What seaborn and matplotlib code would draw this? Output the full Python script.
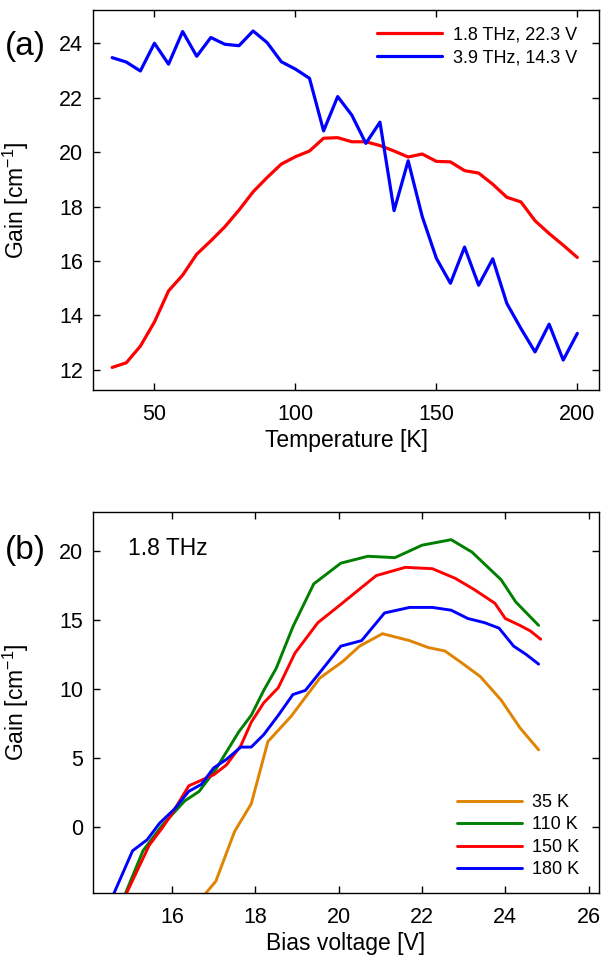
import numpy as np
import pandas as pd
import seaborn as sns
import matplotlib
matplotlib.use('Agg')
import matplotlib.pyplot as plt

# ---- panel (a): gain vs temperature ----
temp_k = [35, 40, 45, 50, 55, 60, 65, 70, 75, 80, 85, 90, 95, 100, 105, 110, 115,
          120, 125, 130, 135, 140, 145, 150, 155, 160, 165, 170, 175, 180, 185, 190, 195, 200]
gain_18thz = [12.09, 12.26, 12.87, 13.76, 14.9, 15.48, 16.25, 16.74, 17.26, 17.87, 18.54, 19.07,
              19.56, 19.83, 20.04, 20.51, 20.53, 20.38, 20.38, 20.24, 20.04, 19.82, 19.93, 19.66,
              19.64, 19.32, 19.23, 18.82, 18.34, 18.17, 17.48, 17.01, 16.58, 16.13]
gain_39thz = [23.47, 23.31, 22.98, 24.0, 23.23, 24.43, 23.52, 24.21, 23.96, 23.91, 24.45, 24.02,
              23.32, 23.05, 22.71, 20.78, 22.04, 21.36, 20.32, 21.10, 17.85, 19.68, 17.63, 16.1,
              15.18, 16.51, 15.11, 16.08, 14.44, 13.52, 12.66, 13.68, 12.36, 13.34]
labels_a = ['1.8 THz, 22.3 V', '3.9 THz, 14.3 V']

# ---- panel (b): gain vs bias at 1.8 THz ----
v_35 = [16.8, 17.05, 17.5, 17.9, 18.3, 18.85, 19.55, 20.1, 20.5, 21.05, 21.7, 22.15, 22.55,
        22.95, 23.4, 23.9, 24.35, 24.8]
g_35 = [-4.8, -3.9, -0.3, 1.7, 6.2, 8.0, 10.8, 12.0, 13.1, 14.0, 13.5, 13.0, 12.75, 11.9,
        10.9, 9.2, 7.2, 5.6]
v_110 = [14.85, 15.3, 15.75, 16.3, 16.65, 17.05, 17.6, 17.9, 18.2, 18.5, 18.9, 19.4, 20.05,
         20.7, 21.35, 22.0, 22.7, 23.2, 23.9, 24.25, 24.8]
g_110 = [-5.0, -1.7, 0.1, 1.9, 2.6, 4.2, 6.9, 8.1, 9.9, 11.5, 14.5, 17.6, 19.1, 19.6, 19.5,
         20.4, 20.8, 19.9, 17.9, 16.3, 14.6]
v_150 = [14.9, 15.45, 15.75, 16.0, 16.4, 16.7, 17.0, 17.3, 17.65, 17.9, 18.2, 18.55, 18.95,
         19.5, 20.0, 20.9, 21.6, 22.25, 22.8, 23.25, 23.75, 24.0, 24.35, 24.6, 24.85]
g_150 = [-4.8, -1.3, -0.1, 1.0, 3.0, 3.4, 3.8, 4.5, 5.9, 7.6, 9.0, 10.1, 12.6, 14.8, 16.0,
         18.2, 18.8, 18.7, 18.0, 17.2, 16.2, 15.1, 14.6, 14.2, 13.6]
v_180 = [14.6, 15.05, 15.4, 15.7, 16.05, 16.4, 16.7, 17.0, 17.3, 17.65, 17.9, 18.2, 18.55,
         18.9, 19.2, 19.6, 20.05, 20.55, 21.1, 21.7, 22.25, 22.7, 23.1, 23.5, 23.85, 24.2,
         24.5, 24.8]
g_180 = [-4.8, -1.7, -0.9, 0.3, 1.3, 2.6, 3.1, 4.3, 4.9, 5.8, 5.8, 6.7, 8.1, 9.6, 9.9, 11.4,
         13.1, 13.5, 15.5, 15.9, 15.9, 15.7, 15.1, 14.8, 14.4, 13.1, 12.5, 11.8]
labels_b = ['35 K', '110 K', '150 K', '180 K']

colors_a = ['#ff0000', '#0000ff']
colors_b = ['#df8300', '#007f00', '#ff0000', '#0000ff']

sns.set_theme(style='ticks')
plt.rcParams['font.family'] = ['Liberation Sans', 'DejaVu Sans']
plt.rcParams['mathtext.fontset'] = 'custom'
plt.rcParams['mathtext.rm'] = 'Liberation Sans'
plt.rcParams['mathtext.it'] = 'Liberation Sans'
plt.rcParams['text.color'] = 'black'
plt.rcParams['axes.labelcolor'] = 'black'
plt.rcParams['xtick.color'] = 'black'
plt.rcParams['ytick.color'] = 'black'

df_a = pd.concat([
    pd.DataFrame({'T': temp_k, 'Gain': gain_18thz, 'series': labels_a[0]}),
    pd.DataFrame({'T': temp_k, 'Gain': gain_39thz, 'series': labels_a[1]}),
], ignore_index=True)

df_b = pd.concat([
    pd.DataFrame({'V': v, 'Gain': g, 'series': lab})
    for v, g, lab in zip([v_35, v_110, v_150, v_180], [g_35, g_110, g_150, g_180], labels_b)
], ignore_index=True)

fig = plt.figure(figsize=(6.03, 9.63), dpi=100)
ax1 = fig.add_axes([0.1542, 0.595, 0.8392, 0.3946])
ax2 = fig.add_axes([0.1542, 0.073, 0.8392, 0.3956])

sns.lineplot(data=df_a, x='T', y='Gain', hue='series', palette=colors_a, lw=2.3,
             sort=False, estimator=None, ax=ax1)
sns.lineplot(data=df_b, x='V', y='Gain', hue='series', palette=colors_b, lw=2.1,
             sort=False, estimator=None, ax=ax2)

ax1.set_xlim(28.2, 207.7)
ax1.set_ylim(11.26, 25.22)
ax1.set_xticks([50, 100, 150, 200])
ax1.set_yticks([12, 14, 16, 18, 20, 22, 24])
ax1.set_xlabel('Temperature [K]', fontsize=16.5, labelpad=3)

ax2.set_xlim(14.1, 26.25)
ax2.set_ylim(-4.73, 22.82)
ax2.set_xticks([16, 18, 20, 22, 24, 26])
ax2.set_yticks([0, 5, 10, 15, 20])
ax2.set_xlabel('Bias voltage [V]', fontsize=16.5, labelpad=3)

for ax in (ax1, ax2):
    ax.set_ylabel('Gain [cm$^{-1}$]', fontsize=16.5)
    ax.yaxis.set_label_coords(-0.122, 0.5)
    ax.tick_params(direction='in', top=True, right=True, length=5, width=1,
                   labelsize=15.5, colors='black')
    ax.tick_params(axis='x', pad=10)
    ax.tick_params(axis='y', pad=7)
    for sp in ax.spines.values():
        sp.set_visible(True)
        sp.set_color('black')
        sp.set_linewidth(1.0)

h, l = ax1.get_legend_handles_labels()
ax1.legend(h, l, loc='upper right', frameon=False, fontsize=13, handlelength=3.6,
           handletextpad=0.6, labelspacing=0.35, borderaxespad=0.4,
           bbox_to_anchor=(0.985, 0.995))
h, l = ax2.get_legend_handles_labels()
ax2.legend(h, l, loc='lower right', frameon=False, fontsize=13, handlelength=3.6,
           handletextpad=0.6, labelspacing=0.3, borderaxespad=0.4,
           bbox_to_anchor=(0.99, 0.0))

ax2.text(0.07, 0.935, '1.8 THz', transform=ax2.transAxes, fontsize=16.5, va='top', ha='left')

fig.text(0.008, 1 - 47 / 963, '(a)', fontsize=24, va='center', ha='left')
fig.text(0.008, 1 - 550 / 963, '(b)', fontsize=24, va='center', ha='left')

fig.savefig('out.png', dpi=100)
